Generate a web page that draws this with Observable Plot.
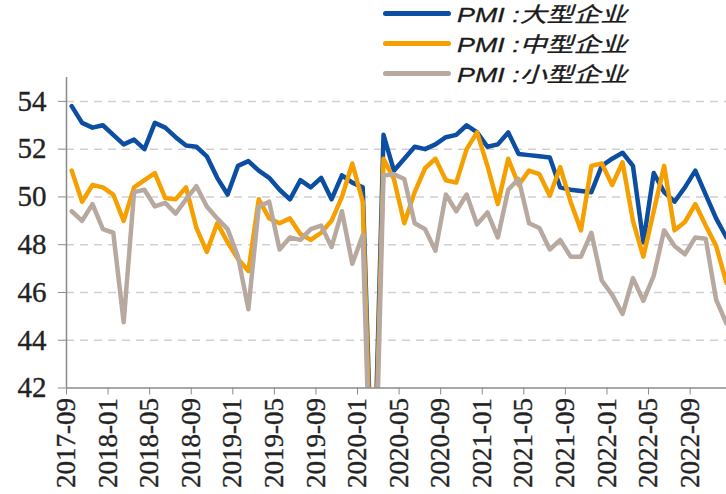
<!DOCTYPE html>
<html><head><meta charset="utf-8">
<script src="https://cdn.jsdelivr.net/npm/d3@7"></script>
<script src="https://cdn.jsdelivr.net/npm/@observablehq/plot@0.6"></script>
<style>
body{margin:0;background:#fff;}
#wrap{position:relative;width:726px;height:494px;overflow:hidden;background:#fff;}
#legend{position:absolute;left:383px;top:-2px;font-family:"Liberation Sans","Noto Sans CJK SC",sans-serif;font-style:italic;font-size:21px;color:#1a1a1a;}
.item{display:flex;align-items:center;height:30px;white-space:nowrap;}
.swatch{width:68px;height:5px;border-radius:3px;margin-right:6px;flex:none;}
.txt{display:inline-block;transform:scaleX(1.28);transform-origin:0 50%;-webkit-text-stroke:0.3px #1a1a1a;}
#wrap svg text{stroke:#2a2a2a;stroke-width:0.35px;}
</style></head>
<body><div id="wrap"><div id="legend"></div></div>
<script>
const tickLabels = ["2017-09","2018-01","2018-05","2018-09","2019-01","2019-05","2019-09","2020-01","2020-05","2020-09","2021-01","2021-05","2021-09","2022-01","2022-05","2022-09"];
const yTicks = [42,44,46,48,50,52,54];
const seriesNames = ["PMI :大型企业","PMI :中型企业","PMI :小型企业"];
const colors = ["#0b4ea2","#f5a000","#b7a99f"];

// monthly, 2017-09 .. 2022-12
const large = [53.8,53.1,52.9,53.0,52.6,52.2,52.4,52.0,53.1,52.9,52.5,52.15,52.1,51.7,50.8,50.1,
  51.3,51.5,51.1,50.8,50.3,49.9,50.7,50.4,50.8,49.9,50.9,50.6,50.4,36.5,52.6,51.1,
  51.6,52.1,52.0,52.2,52.5,52.6,53.0,52.7,52.1,52.2,52.7,51.8,51.75,51.7,51.65,50.4,
  50.3,50.25,50.2,51.3,51.6,51.85,51.3,48.1,51.0,50.2,49.8,50.4,51.1,50.1,49.1,48.3];
const medium = [51.1,49.8,50.5,50.4,50.1,49.0,50.4,50.7,51.0,49.95,49.9,50.4,48.7,47.7,48.9,48.1,
  47.4,46.9,49.9,49.1,48.9,49.1,48.45,48.2,48.5,49.0,50.0,51.4,49.8,35.5,51.6,50.75,
  48.9,50.2,51.2,51.6,50.7,50.6,52.0,52.7,51.3,49.7,51.6,50.5,51.1,50.95,50.05,51.25,
  49.8,48.6,51.3,51.4,50.5,51.45,49.0,47.5,49.4,51.3,48.6,48.95,49.7,48.8,47.95,46.4];
const small = [49.4,49.0,49.7,48.65,48.5,44.75,50.2,50.3,49.6,49.75,49.3,49.9,50.45,49.6,49.1,48.65,
  47.5,45.3,49.6,49.8,47.8,48.3,48.2,48.65,48.8,47.9,49.4,47.2,48.4,34.1,50.9,50.95,
  50.75,48.9,48.65,47.75,50.1,49.4,50.1,48.85,49.35,48.3,50.3,50.75,48.9,48.7,47.8,48.2,
  47.5,47.5,48.5,46.5,45.9,45.1,46.6,45.65,46.7,48.6,47.95,47.6,48.3,48.25,45.7,44.7];

const rows = [];
[large, medium, small].forEach((arr, s) => arr.forEach((v, i) => rows.push({series: seriesNames[s], m: i + 0.5, v})));

const chart = Plot.plot({
  width: 726, height: 494,
  marginLeft: 66, marginRight: 0, marginTop: 77, marginBottom: 106.5,
  x: {type: "linear", domain: [0, 63.5], label: null},
  y: {domain: [42, 55], label: null},
  color: {domain: seriesNames, range: colors},
  style: {background: "white", color: "#222", fontFamily: "'Liberation Serif', serif"},
  marks: [
    Plot.ruleY(yTicks.filter(d => d > 42), {stroke: "#d0d0d0", strokeWidth: 1.5, strokeDasharray: "8,6"}),
    Plot.lineY(rows, {x: "m", y: "v", z: "series", stroke: "series", strokeWidth: 4.5, clip: true, strokeLinejoin: "round"}),
    Plot.ruleX([0], {stroke: "#8a8a8a", strokeWidth: 1.5}),
    Plot.ruleY([42], {stroke: "#8a8a8a", strokeWidth: 1.5}),
    Plot.axisY({ticks: yTicks, tickSize: 8, tickPadding: 12, fontSize: 29, stroke: "#8a8a8a", fill: "#222", tickFormat: d => d, label: null}),
    Plot.axisX({ticks: d3.range(0, 61, 4), tickFormat: d => tickLabels[d / 4], tickRotate: -90, tickSize: 7, tickPadding: 3, fontSize: 27, stroke: "#8a8a8a", fill: "#222", label: null})
  ]
});
chart.querySelectorAll("text, g").forEach(el => {
  el.removeAttribute("font-family");
  el.style.setProperty("font-family", "'Liberation Serif', serif", "important");
});
document.getElementById("wrap").appendChild(chart);

const legend = document.getElementById("legend");
seriesNames.forEach((n, i) => {
  const it = document.createElement("div");
  it.className = "item";
  it.innerHTML = `<span class="swatch" style="background:${colors[i]}"></span><span class="txt">${n}</span>`;
  legend.appendChild(it);
});
</script>
</body></html>
